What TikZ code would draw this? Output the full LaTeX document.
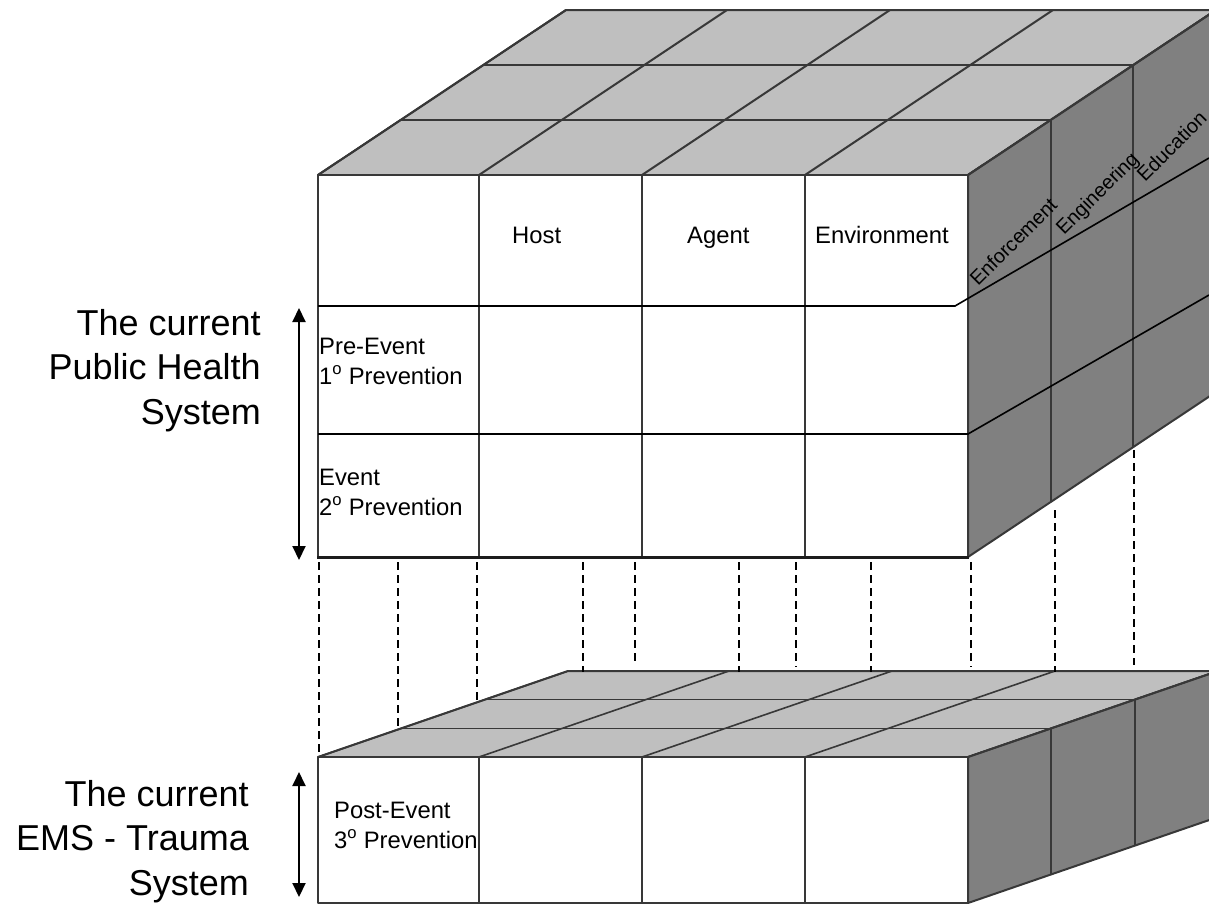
\documentclass[tikz,border=0pt]{standalone}
\usepackage{fontspec}
\setmainfont{Liberation Sans}
\usetikzlibrary{arrows.meta}

\definecolor{topgray}{gray}{0.75}
\definecolor{sidegray}{gray}{0.5}
\definecolor{edgegray}{gray}{0.22}

\begin{document}
\begin{tikzpicture}[x=1pt, y=-1pt,
  >={Triangle[length=14pt,width=13pt]},
  edge/.style={draw=edgegray, line width=2pt, line join=round},
  topface/.style={fill=topgray, edge},
  sideface/.style={fill=sidegray, edge},
  frontface/.style={fill=white, edge},
  rowline/.style={black, line width=1.6pt},
  guide/.style={black, line width=1.6pt, dash pattern=on 8pt off 5pt},
  span/.style={<->, line width=2pt},
  big/.style={font=\fontsize{36}{44.5}\selectfont, align=right, inner sep=0pt},
  cell/.style={font=\fontsize{23.8}{29.5}\selectfont, align=left, inner sep=0pt},
  sidelab/.style={font=\fontsize{20}{22}\selectfont, rotate=45, inner sep=0pt, anchor=base west}
]
\useasboundingbox (0,0) rectangle (1209,905);
\clip (0,0) rectangle (1209,905);

% upper block: public health
\filldraw[topface] (318,175) -- (968,175) -- ++(248,-165) -- (566,10) -- cycle;
\filldraw[sideface] (968,175) -- ++(248,-165) -- ++(0,382) -- (968,557) -- cycle;
\filldraw[frontface] (318,175) rectangle (968,557);
\foreach \x in {479,642,805}
  \draw[edge] (\x,175) -- (\x,557);
\foreach \x in {318,479,642,805,968}
  \draw[edge] (\x,175) -- ++(248,-165);
\foreach \k in {1,2} {
  \draw[edge] (318+\k*82.67,175-\k*55) -- ++(650,0);
  \draw[edge] (968+\k*82.67,175-\k*55) -- ++(0,382);
}
\draw[rowline] (318,306) -- (955,306) -- (1209,158);
\draw[rowline] (318,434) -- (968,434) -- (1209,295);
\draw[line width=3pt, edgegray!50!black] (317,557) -- (969,557);

% lower block: EMS - trauma
\filldraw[topface] (318,757) -- (968,757) -- ++(250,-86) -- (568,671) -- cycle;
\filldraw[sideface] (968,757) -- ++(250,-86) -- ++(0,146) -- (968,903) -- cycle;
\filldraw[frontface] (318,757) rectangle (968,903);
\foreach \x in {479,642,805}
  \draw[edge] (\x,757) -- (\x,903);
\foreach \x in {318,479,642,805,968}
  \draw[edge, line width=1.6pt] (\x,757) -- ++(250,-86);
\foreach \k in {1,2} {
  \draw[edge, line width=1.6pt] (318+\k*83.33,757-\k*28.67) -- ++(650,0);
  \draw[edge] (968+\k*83.33,757-\k*28.67) -- ++(0,146);
}

% projection guides
\foreach \x/\ya/\yb in {319/562/757, 398/562/729, 477/562/700, 583/562/672,
    635/562/665, 739/562/672, 796/562/667, 871/562/672, 971/562/667,
    1055/510/672, 1134/450/665}
  \draw[guide] (\x,\ya) -- (\x,\yb);

% spans
\coordinate (phT) at (299,308);
\coordinate (phB) at (299,560);
\coordinate (emT) at (299,772);
\coordinate (emB) at (299,897);
\draw[span] (phT) -- (phB);
\draw[span] (emT) -- (emB);

% labels (base = last line)
\node[big, anchor=base east] (ph) at (261,424) {The current\\Public Health\\System};
\node[big, anchor=base east] (ems) at (249,895) {The current\\EMS - Trauma\\System};

\node[cell, anchor=base west] (host) at (512,243) {Host};
\node[cell, anchor=base west] (agent) at (687,243) {Agent};
\node[cell, anchor=base west] (env) at (815,243) {Environment};

\node[cell, anchor=base west] (pre) at (319,384) {Pre-Event\\1\textsuperscript{o} Prevention};
\node[cell, anchor=base west] (evt) at (319,515) {Event\\2\textsuperscript{o} Prevention};
\node[cell, anchor=base west] (post) at (334,848) {Post-Event\\3\textsuperscript{o} Prevention};

\node[sidelab] (enf) at (978,287) {Enforcement};
\node[sidelab] (eng) at (1064,236) {Engineering};
\node[sidelab] (edu) at (1145,183) {Education};
\end{tikzpicture}
\end{document}
